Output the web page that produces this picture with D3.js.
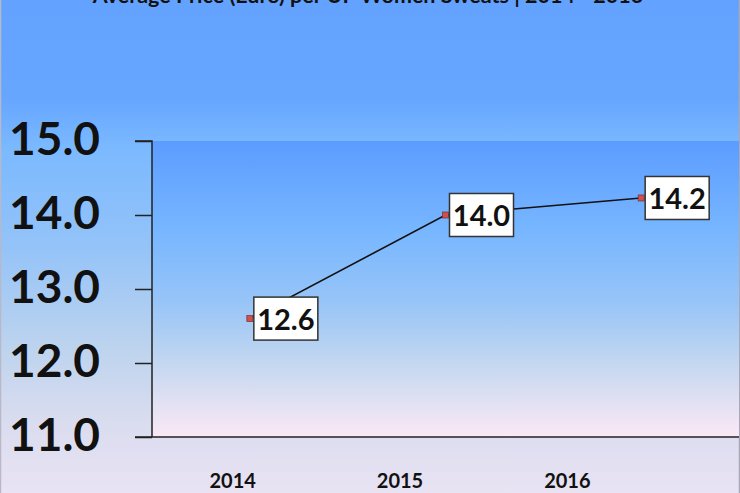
<!DOCTYPE html>
<html><head><meta charset="utf-8">
<script src="https://cdn.jsdelivr.net/npm/d3@7"></script>
<style>html,body{margin:0;padding:0;overflow:hidden;background:#fff}</style>
</head><body><svg id="c" width="740" height="493"></svg>
<script>
const title = "Average Price (Euro) per UP Women Sweats | 2014 - 2016";
const years = ["2014", "2015", "2016"];
const prices = [12.6, 14.0, 14.23];
const yTicks = [11, 12, 13, 14, 15];

const W = 740, H = 493;
const svg = d3.select("#c");
const defs = svg.append("defs");

const og = defs.append("linearGradient").attr("id","outer").attr("x1",0).attr("y1",0).attr("x2",0).attr("y2",1);
[[0,"#63a3ff"],[0.2,"#66a6ff"],[0.3,"#7bb9ff"],[0.5,"#94c3f8"],[0.7,"#bcd3ee"],[0.85,"#d9dcef"],[1,"#e9e3f3"]]
  .forEach(([o,c])=>og.append("stop").attr("offset",o).attr("stop-color",c));
const pg = defs.append("linearGradient").attr("id","plot").attr("x1",0).attr("y1",0).attr("x2",0).attr("y2",1);
[[0,"#5c9cff"],[0.3,"#77b6ff"],[0.55,"#98c5f7"],[0.75,"#c3d7f0"],[0.9,"#e5e2f3"],[1,"#fbe8f6"]]
  .forEach(([o,c])=>pg.append("stop").attr("offset",o).attr("stop-color",c));

svg.append("rect").attr("x",0).attr("y",0).attr("width",W).attr("height",H).attr("fill","url(#outer)");
svg.append("line").attr("x1",0.5).attr("x2",0.5).attr("y1",0).attr("y2",H).attr("stroke","#b8b8c8").attr("stroke-width",1.5);
svg.append("line").attr("x1",739.5).attr("x2",739.5).attr("y1",0).attr("y2",H).attr("stroke","#a8a8b8").attr("stroke-width",1.5);

const x0 = 152, x1 = 739, yTop = 141, yBot = 437;
const x = d3.scalePoint().domain(years).range([x0, x1]).padding(0.5);
const xLab = d3.scaleBand().domain(years).range([149, 651]);
const y = d3.scaleLinear().domain([11, 15]).range([yBot, yTop]);

svg.append("rect").attr("x",x0).attr("y",yTop).attr("width",x1-x0).attr("height",yBot-yTop).attr("fill","url(#plot)");

// title (cut at top, as in the reference)
svg.append("text").attr("x",368).attr("y",3).attr("text-anchor","middle")
  .attr("font-family","Lato").attr("font-weight","bold").attr("font-size",21.5).attr("fill","#111").text(title);

// y axis
const yAxis = d3.axisLeft(y).tickValues(yTicks).tickSize(17).tickPadding(35).tickFormat(d3.format(".1f"));
const gy = svg.append("g").attr("transform",`translate(${x0},0)`).call(yAxis);
gy.select(".domain").attr("stroke","#222").attr("stroke-width",1.5).attr("d",`M-17,${yTop}H0V${yBot}`);
gy.selectAll(".tick line").attr("stroke","#222").attr("stroke-width",1.5);
gy.selectAll(".tick text").attr("font-family","Lato").attr("font-weight","bold").attr("font-size",46)
  .attr("fill","#111").attr("dy","0.3em");

// x axis line
svg.append("line").attr("x1",135).attr("x2",x1).attr("y1",yBot).attr("y2",yBot).attr("stroke","#222").attr("stroke-width",1.5);

// x labels
const xAxis = d3.axisBottom(xLab).tickSize(0).tickPadding(0);
const gx = svg.append("g").attr("transform",`translate(0,${yBot})`).call(xAxis);
gx.select(".domain").remove();
gx.selectAll(".tick text").attr("font-family","Lato").attr("font-weight","bold").attr("font-size",20)
  .attr("fill","#111").attr("y",51).attr("dy",0);

const data = years.map((yr,i)=>({yr, v: prices[i]}));

// line
svg.append("path").datum(data)
  .attr("d", d3.line().x(d=>x(d.yr)).y(d=>y(d.v)))
  .attr("fill","none").attr("stroke","#111").attr("stroke-width",1.6);

// markers
svg.selectAll("rect.mk").data(data).join("rect").attr("class","mk")
  .attr("x",d=>x(d.yr)-3).attr("y",d=>y(d.v)-3).attr("width",6).attr("height",6)
  .attr("fill","#d0504d").attr("stroke","#7a3030").attr("stroke-width",0.7);

// labels
const lab = svg.selectAll("g.lab").data(data).join("g").attr("class","lab")
  .attr("transform",d=>`translate(${x(d.yr)+4},${y(d.v)})`);
lab.append("rect").attr("x",0).attr("y",-21.5).attr("width",64).attr("height",43)
  .attr("fill","#fff").attr("stroke","#333").attr("stroke-width",1.5);
lab.append("text").attr("x",32).attr("y",11).attr("text-anchor","middle")
  .attr("font-family","Lato").attr("font-weight","bold").attr("font-size",29).attr("fill","#111")
  .text(d=>d3.format(".1f")(d.v));
</script></body></html>
